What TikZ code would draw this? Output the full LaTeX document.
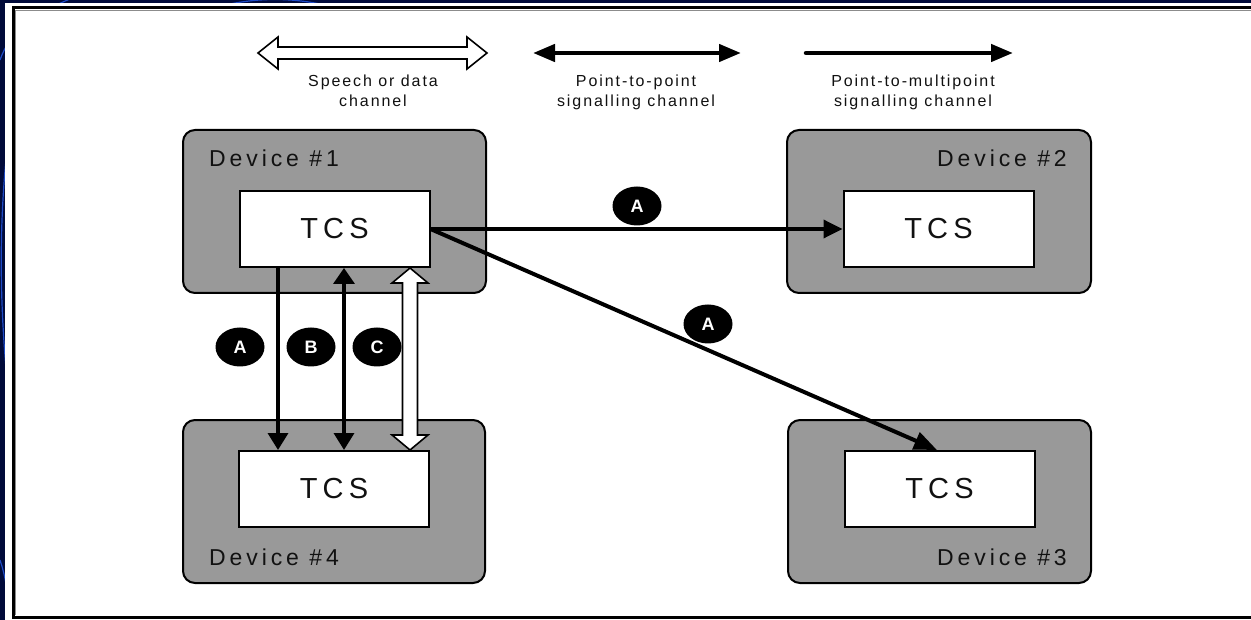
\documentclass[tikz,border=0pt]{standalone}
\usepackage{fontspec}
\setmainfont{Liberation Sans}
\newfontfamily\devfont[LetterSpace=17]{Liberation Sans}
\newfontfamily\tcsfont[LetterSpace=18]{Liberation Sans}
\newfontfamily\legfont[LetterSpace=12]{Liberation Sans}
\usetikzlibrary{arrows.meta,calc,shapes.geometric}
\definecolor{navy}{HTML}{000A3A}
\definecolor{arcblue}{HTML}{1E4BC8}
\definecolor{devgray}{HTML}{999999}
\definecolor{txt}{HTML}{111111}
\begin{document}
\begin{tikzpicture}[x=1pt,y=-1pt,
  device/.style={draw=black,line width=2pt,fill=devgray,rounded corners=12pt,minimum height=163pt,inner sep=0pt},
  tcsbox/.style={draw=black,line width=2pt,fill=white,minimum width=190pt,minimum height=76pt,inner sep=0pt,font=\tcsfont\fontsize{29}{30}\selectfont,text=txt},
  devlabel/.style={inner sep=0pt,font=\devfont\fontsize{23}{24}\selectfont,text=txt},
  leglabel/.style={inner sep=0pt,anchor=base,font=\legfont\fontsize{16}{18}\selectfont,text=txt},
  badge/.style={ellipse,fill=black,minimum width=49pt,minimum height=39pt,inner sep=0pt,text=white,font=\bfseries\fontsize{18}{18}\selectfont},
  sigline/.style={draw=black,line width=3.5pt},
  hollow/.style={draw=black,line width=1.6pt,fill=white,line join=miter},
]
\useasboundingbox (0,0) rectangle (1251,620);
\clip (0,0) rectangle (1251,620);
% slide background
\fill[navy] (0,0) rectangle (1251,620);
\draw[arcblue,line width=1.2pt] (8,140) .. controls (-1,220) and (-1,300) .. (8,390);
\draw[arcblue,line width=1.2pt] (0,60) .. controls (10,30) and (40,10) .. (80,-5);
\draw[arcblue,line width=1.2pt] (230,4) .. controls (260,-2) and (290,-2) .. (320,4);
\draw[arcblue,line width=1.2pt] (0,560) .. controls (5,575) and (8,590) .. (10,620);
% white frame
\fill[white] (5,3) rectangle (1251,620);
\draw[black,line width=3pt] (1260,7.5) -- (13,7.5) -- (13,617.5) -- (1260,617.5);
\draw[black!45,line width=0.8pt] (1260,10) -- (15.5,10) -- (15.5,615);

% devices
\node[device,minimum width=303pt] (dev1) at (334.5,211.5) {};
\node[device,minimum width=304pt] (dev2) at (939,211.5) {};
\node[device,minimum width=302pt] (dev4) at (334,501.5) {};
\node[device,minimum width=303pt] (dev3) at (939.5,501.5) {};
\node[tcsbox] (tcs1) at (334.5,229) {TCS};
\node[tcsbox] (tcs2) at (938.5,229) {TCS};
\node[tcsbox] (tcs4) at (334,489) {TCS};
\node[tcsbox] (tcs3) at (939.5,489) {TCS};
\node[devlabel,anchor=base west] (lab1) at (209,166.5) {Device \#1};
\node[devlabel,anchor=base east] (lab2) at (1067,166.5) {Device \#2};
\node[devlabel,anchor=base west] (lab4) at (209,565) {Device \#4};
\node[devlabel,anchor=base east] (lab3) at (1067,565) {Device \#3};

% legend
\coordinate (sL) at (258,53);
\coordinate (sR) at (487,53);
\draw[hollow] (sL) -- ++(20,-16) -- ++(0,10) -- ($(sR)+(-20,-6)$) -- ++(0,-10) -- (sR) -- ++(-20,16) -- ++(0,-10) -- ($(sL)+(20,6)$) -- ++(0,10) -- cycle;
\coordinate (pL) at (533,53);
\coordinate (pR) at (741,53);
\draw[line width=4.5pt,{Triangle[length=22pt,width=17pt]}-{Triangle[length=22pt,width=17pt]}] (pL) -- (pR);
\coordinate (mL) at (806,53);
\coordinate (mR) at (1013,53);
\draw[line width=4.5pt,line cap=round,-{Triangle[length=22pt,width=17pt]}] (mL) -- (mR);
\node[leglabel] (t1a) at (373,87) {Speech or data};
\node[leglabel] (t1b) at (373,107) {channel};
\node[leglabel] (t2a) at (636,87) {Point-to-point};
\node[leglabel] (t2b) at (636,107) {signalling channel};
\node[leglabel] (t3a) at (913,87) {Point-to-multipoint};
\node[leglabel] (t3b) at (913,107) {signalling channel};

% connectors
\coordinate (ax) at (278,0);
\coordinate (bx) at (344,0);
\coordinate (cx) at (410,0);
\coordinate (dx) at (937,0);
\draw[sigline,-{Triangle[length=19pt,width=18pt]}] (tcs1.east) -- (tcs2.west);
\draw[sigline,line width=4pt,-{Triangle[length=23pt,width=18pt]}] (tcs1.east) -- (tcs3.north -| dx);
\draw[sigline,-{Triangle[length=17pt,width=20pt]}] (tcs1.south -| ax) -- (tcs4.north -| ax);
\draw[sigline,{Triangle[length=16pt,width=21pt]}-{Triangle[length=17pt,width=20pt]}] (tcs1.south -| bx) -- (tcs4.north -| bx);
\coordinate (cT) at (tcs1.south -| cx);
\coordinate (cB) at (tcs4.north -| cx);
\draw[hollow] (cT) -- ++(18,15) -- ++(-10.5,0) -- ($(cB)+(7.5,-15)$) -- ++(10.5,0) -- (cB) -- ++(-18,-15) -- ++(10.5,0) -- ($(cT)+(-7.5,15)$) -- ++(-10.5,0) -- cycle;

% badges
\node[badge] (bA1) at (637,206) {A};
\node[badge] (bA2) at (708,324) {A};
\node[badge] (bA3) at (240,347) {A};
\node[badge] (bB) at (311,347) {B};
\node[badge] (bC) at (377,347) {C};
\end{tikzpicture}
\end{document}
